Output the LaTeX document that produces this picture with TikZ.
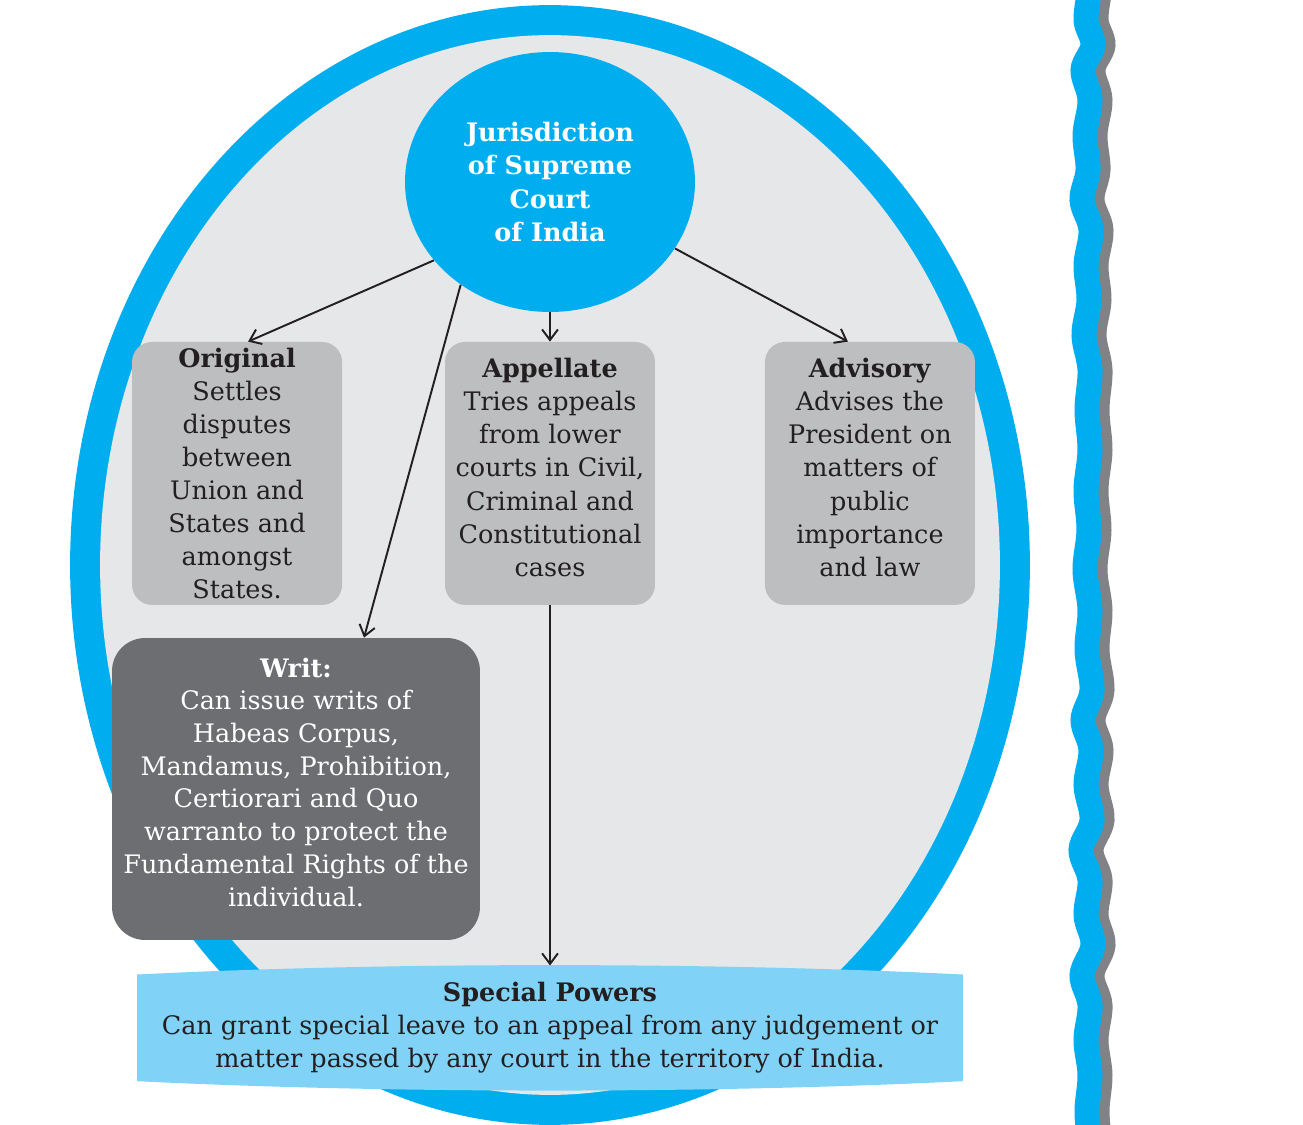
\documentclass[tikz,border=0pt]{standalone}
\usepackage{fontspec}
\setmainfont{DejaVu Serif}
\usepackage{tikz}
\usetikzlibrary{shapes.geometric, arrows.meta, positioning}
\definecolor{sccyan}{RGB}{0,174,239}
\definecolor{ringgray}{RGB}{230,231,232}
\definecolor{boxgray}{RGB}{188,190,192}
\definecolor{writgray}{RGB}{109,110,113}
\definecolor{spblue}{RGB}{128,211,246}
\definecolor{inkdark}{RGB}{35,31,32}
\definecolor{bandgray}{RGB}{128,130,133}
\pgfdeclarelayer{back}
\pgfdeclarelayer{mid}
\pgfsetlayers{back,mid,main}

\begin{document}
\begin{tikzpicture}[x=0.02cm, y=-0.02cm, node distance=3cm]
% Define styles
\tikzstyle{court} = [ellipse, minimum width=5.8cm, minimum height=5.2cm, inner sep=0pt, align=center, fill=sccyan, text=white, font=\fontsize{14.5}{18.8}\selectfont\bfseries]
\tikzstyle{power} = [rectangle, rounded corners=0.4cm, minimum width=4.2cm, minimum height=5.26cm, align=center, fill=boxgray, text=inkdark, font=\fontsize{14.5}{18.8}\selectfont]
\tikzstyle{writbox} = [rectangle, rounded corners=0.66cm, minimum width=7.36cm, minimum height=6.04cm, align=center, fill=writgray, text=white, text depth=8pt, font=\fontsize{14.5}{18.6}\selectfont]
\tikzstyle{special} = [rectangle, minimum width=16.5cm, minimum height=2.12cm, align=center, text=inkdark, font=\fontsize{14.5}{18.8}\selectfont]
\tikzstyle{arrow} = [->, >={Straight Barb[length=6pt,width=9pt]}, draw=inkdark, line width=1.1pt]
\useasboundingbox (0,0) rectangle (1303,1125);
\clip (0,0) rectangle (1303,1125);
% Background
\begin{pgfonlayer}{back}
\fill[sccyan] (550,565) ellipse [x radius=9.6cm, y radius=11.2cm];
\fill[ringgray] (550,565) ellipse [x radius=9cm, y radius=10.6cm];
\foreach \dx/\col in {0.2cm/bandgray, 0cm/sccyan}
  \draw[\col, line width=0.5cm, xshift=\dx] plot[smooth, tension=0.6] coordinates {(1090,-10) (1086,20) (1093,45) (1083,70) (1090,100) (1085,135) (1088,170) (1082,200) (1091,230) (1086,265) (1089,300) (1084,335) (1090,370) (1087,410) (1090,450) (1086,490) (1089,530) (1085,570) (1090,610) (1087,650) (1092,690) (1083,720) (1091,750) (1086,785) (1092,820) (1081,850) (1090,880) (1086,915) (1093,945) (1082,975) (1090,1005) (1086,1040) (1090,1075) (1087,1110) (1089,1135)};
\end{pgfonlayer}
% Place nodes
\node (jsc) [court] at (550,182) {Jurisdiction\\ of Supreme\\ Court\\ of India};
\node (app) [power, text depth=7pt, below of=jsc, node distance=5.83cm] {\textbf{Appellate}\\ Tries appeals\\ from lower\\ courts in Civil,\\ Criminal and\\ Constitutional\\ cases};
\node (org) [power, left of=app, node distance=6.26cm] {\textbf{Original}\\ Settles\\ disputes\\ between\\ Union and\\ States and\\ amongst\\ States.};
\node (adv) [power, text depth=7pt, right of=app, node distance=6.4cm] {\textbf{Advisory}\\ Advises the\\ President on\\ matters of\\ public\\ importance\\ and law};
\node (writ) [writbox] at (296,789) {\textbf{Writ:}\\ Can issue writs of\\ Habeas Corpus,\\ Mandamus, Prohibition,\\ Certiorari and Quo\\ warranto to protect the\\ Fundamental Rights of the\\ individual.};
\node (sp) [special, below of=app, node distance=11.09cm] {\textbf{Special Powers}\\ Can grant special leave to an appeal from any judgement or\\ matter passed by any court in the territory of India.};
\coordinate (sptop) at ([yshift=0.18cm]sp.north);
\begin{pgfonlayer}{mid}
\fill[spblue] (sp.north west) .. controls ([xshift=5cm, yshift=0.25cm]sp.north west) and ([xshift=-5cm, yshift=0.25cm]sp.north east) .. (sp.north east)
  -- (sp.south east) .. controls ([xshift=-5cm, yshift=-0.25cm]sp.south east) and ([xshift=5cm, yshift=-0.25cm]sp.south west) .. (sp.south west) -- cycle;
\end{pgfonlayer}
% Draw arrows
\draw [arrow] (jsc.214) -- ([xshift=0.22cm]org.north);
\draw [arrow] (jsc.229) -- ([xshift=1.36cm]writ.north);
\draw [arrow] (jsc.south) -- (app.north);
\draw [arrow] (jsc.332) -- ([xshift=-0.44cm]adv.north);
\draw [arrow] (app.south) -- (sptop);
\end{tikzpicture}
\end{document}
